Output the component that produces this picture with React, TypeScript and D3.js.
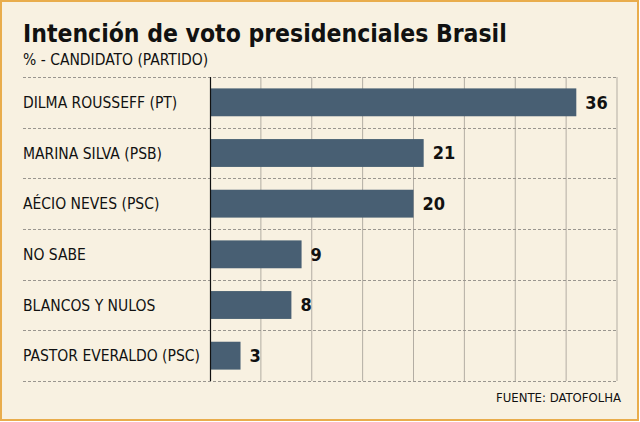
import React from 'react';
import * as d3 from 'd3';

const WIDTH = 640;
const HEIGHT = 422;
const MARGIN = { top: 77, right: 23, bottom: 41, left: 210 };

const TITLE = 'Intención de voto presidenciales Brasil';
const SUBTITLE = '% - CANDIDATO (PARTIDO)';
const SOURCE = 'FUENTE: DATOFOLHA';

const candidates = [
    'DILMA ROUSSEFF (PT)',
    'MARINA SILVA (PSB)',
    'AÉCIO NEVES (PSC)',
    'NO SABE',
    'BLANCOS Y NULOS',
    'PASTOR EVERALDO (PSC)',
];
const votes = [36, 21, 20, 9, 8, 3];
const xTicks = [0, 5, 10, 15, 20, 25, 30, 35, 40];

const BG = '#f8f1e1';
const BORDER = '#e9ad4c';
const BAR = '#485f73';
const FONT = '"DejaVu Sans Condensed", "DejaVu Sans", sans-serif';

const App = () => {
    const chartLeft = MARGIN.left;
    const chartRight = WIDTH - MARGIN.right;
    const chartTop = MARGIN.top;
    const chartBottom = HEIGHT - MARGIN.bottom;
    const labelX = 23;

    const xScale = d3.scaleLinear()
        .domain([0, 40])
        .range([chartLeft, chartRight]);

    const yScale = d3.scaleBand()
        .domain(candidates)
        .range([chartTop, chartBottom])
        .paddingInner(0.45)
        .paddingOuter(0.225);

    const rowH = (chartBottom - chartTop) / candidates.length;
    const rowLines = d3.range(candidates.length + 1).map(i => chartTop + i * rowH);

    return (
        <svg width={WIDTH} height={HEIGHT} style={{ position: 'absolute', left: 0, top: 0 }}>
            <rect x={1} y={1} width={WIDTH - 3} height={HEIGHT - 3} fill={BG} stroke={BORDER} strokeWidth={2} />

            <text x={labelX} y={42} fontFamily={FONT} fontWeight="bold" fontSize={24.5} fill="#111">{TITLE}</text>
            <text x={labelX} y={65} fontFamily={FONT} fontSize={15.5} fill="#111">{SUBTITLE}</text>

            {/* vertical grid */}
            {xTicks.slice(1).map(t =>
                <line key={t} x1={xScale(t)} x2={xScale(t)} y1={chartTop} y2={chartBottom}
                    stroke="#b3ada3" strokeWidth={1} />
            )}

            {/* dashed row separators */}
            {rowLines.map((y, i) =>
                <line key={i} x1={labelX} x2={chartRight} y1={Math.round(y) + 0.5} y2={Math.round(y) + 0.5}
                    stroke="#9a968f" strokeWidth={1} strokeDasharray="3,2" />
            )}

            {candidates.map((c, i) => {
                const y = yScale(c) as number;
                const h = yScale.bandwidth();
                return (
                    <g key={c}>
                        <rect x={xScale(0)} y={y} width={xScale(votes[i]) - xScale(0)} height={h} fill={BAR} />
                        <text x={labelX} y={y + h / 2} dy="0.36em" fontFamily={FONT} fontSize={15.5} fill="#111">{c}</text>
                        <text x={xScale(votes[i]) + 9} y={y + h / 2} dy="0.36em" fontFamily={FONT}
                            fontWeight="bold" fontSize={18} fill="#111">{votes[i]}</text>
                    </g>
                );
            })}

            {/* zero axis */}
            <line x1={xScale(0) + 0.5} x2={xScale(0) + 0.5} y1={chartTop} y2={chartBottom} stroke="#111" strokeWidth={1.2} />

            <text x={chartRight + 4} y={402} textAnchor="end" fontFamily={FONT} fontSize={13} fill="#111">{SOURCE}</text>
        </svg>
    );
};

export default App;
